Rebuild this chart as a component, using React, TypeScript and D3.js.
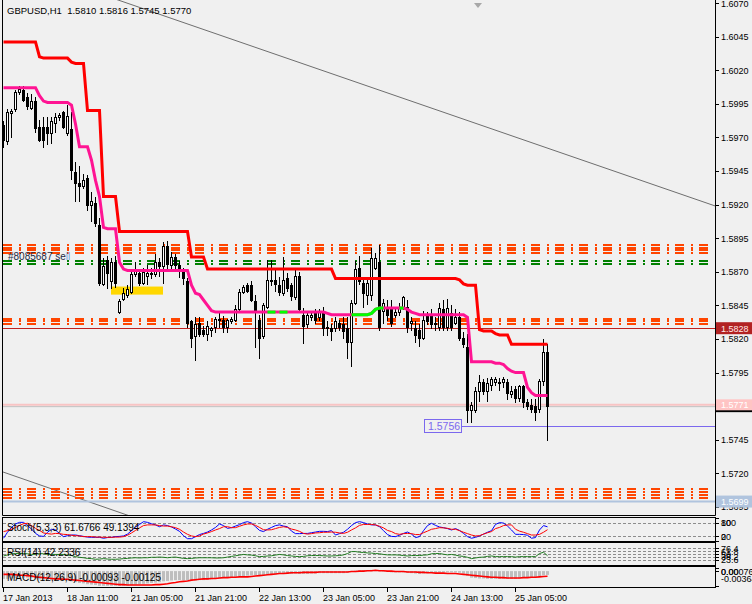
import * as d3 from "d3";

// H1 candles, [open, high, low, close]
const ohlc: [number, number, number, number][] = [
  [1.5979, 1.5982, 1.5963, 1.5968], [1.5967, 1.5991, 1.5965, 1.5989], [1.5988, 1.5991, 1.597, 1.599], [1.5991, 1.6005, 1.599, 1.6004], [1.6004, 1.6008, 1.6002, 1.6006],
  [1.6005, 1.6008, 1.5997, 1.5998], [1.6, 1.6003, 1.5991, 1.5993], [1.5992, 1.6002, 1.5991, 1.5997], [1.5997, 1.6, 1.5974, 1.5977], [1.5978, 1.5983, 1.5967, 1.5968],
  [1.5978, 1.5985, 1.5963, 1.5968], [1.5978, 1.5985, 1.5965, 1.5973], [1.5973, 1.5985, 1.5966, 1.5982], [1.5981, 1.5988, 1.5974, 1.5985], [1.5985, 1.5988, 1.5983, 1.5987],
  [1.5989, 1.599, 1.5977, 1.5978], [1.5973, 1.5994, 1.5972, 1.5986], [1.5976, 1.5989, 1.5939, 1.5946], [1.5944, 1.5952, 1.5923, 1.5936], [1.5936, 1.5949, 1.5923, 1.5934],
  [1.5934, 1.5943, 1.5932, 1.5938], [1.594, 1.5942, 1.5916, 1.592], [1.592, 1.5929, 1.5908, 1.5923], [1.5921, 1.5926, 1.5904, 1.5906], [1.5905, 1.591, 1.586, 1.5862],
  [1.5861, 1.588, 1.586, 1.5874], [1.5879, 1.5882, 1.5858, 1.5869], [1.5863, 1.588, 1.5858, 1.5877], [1.5877, 1.5882, 1.5859, 1.5862], [1.584, 1.585, 1.5839, 1.5848],
  [1.585, 1.5858, 1.5849, 1.5854], [1.5853, 1.586, 1.5851, 1.5857], [1.5855, 1.587, 1.5854, 1.5868], [1.5868, 1.5877, 1.5867, 1.5871], [1.5869, 1.5871, 1.586, 1.5862],
  [1.5862, 1.5873, 1.5861, 1.587], [1.5867, 1.5875, 1.5861, 1.5869], [1.5869, 1.5873, 1.5865, 1.5868], [1.5868, 1.5883, 1.5867, 1.5877], [1.5877, 1.588, 1.5867, 1.5874],
  [1.5874, 1.5892, 1.5862, 1.5889], [1.5889, 1.5893, 1.5873, 1.5876], [1.5875, 1.5885, 1.5872, 1.5881], [1.5881, 1.5883, 1.5872, 1.5875], [1.5875, 1.5878, 1.5866, 1.5871],
  [1.5872, 1.5873, 1.5861, 1.5865], [1.5863, 1.5865, 1.5829, 1.5832], [1.5833, 1.5834, 1.5814, 1.5821], [1.5822, 1.5836, 1.5804, 1.5831], [1.5832, 1.5836, 1.5822, 1.5824],
  [1.5827, 1.583, 1.5822, 1.5824], [1.5824, 1.5833, 1.5819, 1.583], [1.5827, 1.5829, 1.5822, 1.5828], [1.5829, 1.5836, 1.5825, 1.5835], [1.5834, 1.5839, 1.5829, 1.5835],
  [1.5834, 1.5837, 1.5825, 1.5829], [1.5829, 1.5835, 1.5825, 1.5834], [1.5833, 1.5836, 1.5832, 1.5835], [1.5834, 1.5845, 1.5833, 1.5842], [1.5842, 1.5857, 1.584, 1.5855],
  [1.5855, 1.586, 1.5854, 1.5859], [1.586, 1.5862, 1.5855, 1.5856], [1.586, 1.5863, 1.5848, 1.5849], [1.5848, 1.5853, 1.5814, 1.5841], [1.5834, 1.5838, 1.5806, 1.5821],
  [1.5822, 1.5847, 1.5821, 1.5845], [1.5844, 1.5879, 1.5843, 1.5864], [1.5864, 1.5879, 1.586, 1.5863], [1.5864, 1.5871, 1.5856, 1.5861], [1.586, 1.5866, 1.5853, 1.5855],
  [1.5854, 1.5881, 1.5853, 1.5864], [1.5865, 1.5869, 1.5856, 1.5858], [1.586, 1.5862, 1.5849, 1.5852], [1.5851, 1.5871, 1.585, 1.5867], [1.5867, 1.587, 1.584, 1.5842],
  [1.5838, 1.5843, 1.5817, 1.583], [1.5831, 1.584, 1.5829, 1.5838], [1.5836, 1.584, 1.5834, 1.5838], [1.584, 1.5842, 1.5832, 1.5834], [1.5836, 1.5842, 1.5834, 1.584],
  [1.5839, 1.5844, 1.5823, 1.5828], [1.5829, 1.5833, 1.5823, 1.5828], [1.5828, 1.5831, 1.5819, 1.5826], [1.5828, 1.5836, 1.5826, 1.5833], [1.5832, 1.5834, 1.5827, 1.5829],
  [1.5831, 1.5836, 1.5821, 1.5826], [1.5828, 1.5836, 1.5806, 1.5818], [1.5818, 1.5849, 1.58, 1.5847], [1.5847, 1.5878, 1.5846, 1.5872], [1.5873, 1.5882, 1.5861, 1.5863],
  [1.5862, 1.5865, 1.5844, 1.5854], [1.5853, 1.5865, 1.5846, 1.5862], [1.5853, 1.5888, 1.5849, 1.588], [1.5873, 1.5884, 1.5872, 1.588], [1.5877, 1.589, 1.5827, 1.5829],
  [1.5841, 1.585, 1.5832, 1.5847], [1.5844, 1.5849, 1.5834, 1.5838], [1.5842, 1.5849, 1.583, 1.5832], [1.5838, 1.5844, 1.5836, 1.584], [1.584, 1.5847, 1.5838, 1.5843],
  [1.5844, 1.5852, 1.5842, 1.5851], [1.5844, 1.5849, 1.5825, 1.5829], [1.5832, 1.5836, 1.5827, 1.5833], [1.5828, 1.5833, 1.5818, 1.5823], [1.5827, 1.5831, 1.5815, 1.5821],
  [1.5821, 1.5841, 1.582, 1.5834], [1.5838, 1.584, 1.5831, 1.5833], [1.5837, 1.5842, 1.5828, 1.5831], [1.5831, 1.5836, 1.5827, 1.5832], [1.5829, 1.5847, 1.5827, 1.5843],
  [1.5842, 1.5849, 1.5827, 1.5829], [1.5829, 1.585, 1.5827, 1.5843], [1.5839, 1.5845, 1.5827, 1.5829], [1.5832, 1.5842, 1.5831, 1.5836], [1.5836, 1.584, 1.5819, 1.5821],
  [1.5821, 1.5825, 1.5814, 1.5816], [1.5814, 1.5824, 1.5758, 1.5767], [1.5767, 1.5773, 1.5758, 1.5771], [1.5767, 1.5784, 1.5766, 1.5781], [1.5781, 1.5793, 1.5774, 1.5788],
  [1.5788, 1.579, 1.5779, 1.5781], [1.5781, 1.5791, 1.5774, 1.5787], [1.5786, 1.5792, 1.5782, 1.579], [1.5788, 1.5792, 1.5786, 1.579], [1.5788, 1.5791, 1.5782, 1.5787],
  [1.5788, 1.5792, 1.5784, 1.579], [1.5788, 1.579, 1.5775, 1.578], [1.5779, 1.5785, 1.5777, 1.5781], [1.5783, 1.5785, 1.5773, 1.5776], [1.5776, 1.5786, 1.5774, 1.5785],
  [1.5785, 1.5786, 1.5769, 1.5773], [1.5773, 1.5775, 1.5768, 1.577], [1.5771, 1.5775, 1.5766, 1.5768], [1.577, 1.5775, 1.576, 1.5766], [1.5768, 1.579, 1.5766, 1.5789],
  [1.5789, 1.582, 1.5786, 1.581], [1.581, 1.5816, 1.5745, 1.577],
];

// red step indicator
const stopLevels = [
  1.6041, 1.6041, 1.6041, 1.6041, 1.6041, 1.6041, 1.6041, 1.6041, 1.6041, 1.603,
  1.6029, 1.6029, 1.6029, 1.6029, 1.6029, 1.6029, 1.6029, 1.6026, 1.6025, 1.6025,
  1.6025, 1.599, 1.599, 1.599, 1.599, 1.5926, 1.5926, 1.5926, 1.5926, 1.59,
  1.59, 1.59, 1.59, 1.59, 1.59, 1.59, 1.59, 1.59, 1.59, 1.59,
  1.59, 1.59, 1.59, 1.59, 1.59, 1.59, 1.59, 1.5881, 1.5881, 1.5881,
  1.5881, 1.5872, 1.5872, 1.5872, 1.5872, 1.5872, 1.5872, 1.5872, 1.5872, 1.5872,
  1.5872, 1.5872, 1.5872, 1.5872, 1.5872, 1.5872, 1.5872, 1.5872, 1.5872, 1.5872,
  1.5872, 1.5872, 1.5872, 1.5872, 1.5872, 1.5872, 1.5872, 1.5872, 1.5872, 1.5872,
  1.5872, 1.5872, 1.5872, 1.5865, 1.5865, 1.5865, 1.5865, 1.5865, 1.5865, 1.5865,
  1.5865, 1.5865, 1.5865, 1.5865, 1.5865, 1.5865, 1.5865, 1.5865, 1.5865, 1.5865,
  1.5865, 1.5865, 1.5865, 1.5865, 1.5865, 1.5865, 1.5865, 1.5865, 1.5865, 1.5865,
  1.5865, 1.5865, 1.5865, 1.5865, 1.5864, 1.5861, 1.586, 1.586, 1.586, 1.5827,
  1.5826, 1.5826, 1.5826, 1.5824, 1.5823, 1.5823, 1.5823, 1.5816, 1.5816, 1.5816,
  1.5816, 1.5816, 1.5816, 1.5816, 1.5816, 1.5816, 1.5816,
];

// pink trailing line
const trailLevels = [
  1.6007, 1.6007, 1.6007, 1.6007, 1.6007, 1.6007, 1.6007, 1.6007, 1.6007, 1.6001,
  1.5997, 1.5996, 1.5996, 1.5996, 1.5996, 1.5996, 1.5996, 1.5994, 1.598, 1.5963,
  1.5963, 1.5963, 1.5953, 1.5938, 1.5926, 1.5903, 1.5902, 1.5902, 1.5902, 1.5877,
  1.5872, 1.5871, 1.5871, 1.5871, 1.5871, 1.5871, 1.5871, 1.5871, 1.5871, 1.5871,
  1.5871, 1.5871, 1.5871, 1.5871, 1.5871, 1.5871, 1.5871, 1.586, 1.5854, 1.5853,
  1.5849, 1.5845, 1.5841, 1.584, 1.584, 1.584, 1.584, 1.584, 1.584, 1.584,
  1.584, 1.584, 1.584, 1.584, 1.584, 1.584, 1.584, 1.584, 1.584, 1.584,
  1.584, 1.584, 1.584, 1.584, 1.584, 1.584, 1.584, 1.584, 1.584, 1.584,
  1.584, 1.5839, 1.5838, 1.5838, 1.5838, 1.5838, 1.5838, 1.5838, 1.5838, 1.5838,
  1.5838, 1.5838, 1.5839, 1.5842, 1.5843, 1.5843, 1.5843, 1.5843, 1.5843, 1.5843,
  1.5843, 1.5842, 1.584, 1.5839, 1.5838, 1.5838, 1.5838, 1.5838, 1.5838, 1.5838,
  1.5838, 1.5838, 1.5838, 1.5838, 1.5838, 1.5838, 1.5836, 1.5803, 1.5803, 1.5803,
  1.5803, 1.5803, 1.5803, 1.5802, 1.5802, 1.5801, 1.5798, 1.5796, 1.5795, 1.5795,
  1.5795, 1.5784, 1.578, 1.5778, 1.5778, 1.5778, 1.5778,
];
// bar ranges where the trailing line turns lime
const limeRanges: [number, number][] = [[66, 68], [69, 71], [87, 95], [99, 100]];

const stochMain = [
  12, 38, 59, 74, 81, 81, 67, 52, 33, 22, 20, 38, 51, 48, 32, 19, 23, 26, 26, 23,
  20, 17, 16, 16, 16, 12, 15, 16, 19, 20, 22, 30, 45, 61, 72, 84, 81, 75, 70, 62,
  70, 67, 61, 52, 42, 23, 10, 10, 19, 28, 33, 39, 48, 59, 74, 67, 55, 58, 65, 71,
  80, 84, 78, 62, 46, 41, 51, 59, 67, 70, 65, 62, 43, 32, 32, 33, 33, 36, 39, 42,
  42, 41, 45, 26, 32, 38, 51, 67, 80, 84, 80, 74, 70, 70, 62, 45, 28, 20, 19, 25,
  33, 39, 30, 15, 19, 45, 67, 77, 68, 61, 58, 54, 48, 54, 46, 33, 19, 12, 16, 22,
  30, 38, 45, 72, 80, 78, 65, 48, 29, 29, 28, 25, 12, 15, 48, 67, 61.6766,
];
const stochSignal = [
  41, 45, 51, 59, 68, 75, 77, 67, 55, 46, 35, 32, 30, 33, 32, 29, 28, 25, 23, 22,
  19, 19, 19, 17, 17, 16, 16, 16, 17, 17, 19, 25, 35, 46, 57, 67, 70, 70, 70, 67,
  65, 65, 62, 58, 51, 39, 29, 22, 19, 22, 30, 35, 41, 48, 54, 62, 62, 58, 58, 64,
  70, 74, 74, 68, 59, 49, 48, 49, 54, 59, 62, 59, 52, 48, 42, 33, 30, 32, 35, 36,
  38, 38, 39, 38, 35, 33, 38, 48, 57, 68, 72, 72, 72, 70, 64, 57, 46, 41, 32, 29,
  32, 33, 32, 28, 28, 36, 43, 51, 54, 58, 57, 55, 51, 51, 45, 38, 32, 26, 22, 23,
  30, 36, 41, 54, 59, 67, 70, 70, 51, 43, 38, 32, 26, 26, 29, 38, 49.1394,
];
const stochLevels = [80, 20];
const stochAxis = [100, 80, 20, 0];

const rsiValues = [
  41, 46, 51, 52, 52, 52, 51, 48, 49, 52, 51, 48, 48, 48, 48, 48, 45, 43, 38, 35,
  33, 30, 29, 26, 27, 29, 27, 26, 26, 27, 29, 30, 32, 33, 32, 33, 33, 35, 35, 36,
  35, 33, 35, 36, 33, 30, 29, 30, 32, 33, 33, 33, 33, 32, 32, 33, 36, 39, 42, 45,
  48, 46, 45, 42, 38, 39, 41, 42, 45, 48, 46, 43, 41, 39, 38, 39, 42, 43, 43, 43,
  42, 41, 41, 42, 43, 46, 52, 61, 61, 58, 57, 55, 54, 52, 51, 48, 46, 46, 46, 45,
  43, 41, 43, 43, 43, 45, 46, 51, 52, 52, 49, 46, 48, 45, 41, 39, 35, 29, 32, 35,
  36, 39, 41, 38, 38, 38, 38, 38, 36, 38, 38, 38, 38, 38, 52, 58, 42.2336,
];
const rsiLevels = [76.4, 61.8, 50, 38.2, 23.6];

const macdMain = [
  -0.0019, -0.0019, -0.0018, -0.0017, -0.0016, -0.0016, -0.0016, -0.0016, -0.0018, -0.002,
  -0.0021, -0.0022, -0.0022, -0.0022, -0.0022, -0.0023, -0.0023, -0.0025, -0.0027, -0.0029,
  -0.003, -0.0032, -0.0033, -0.0034, -0.0036, -0.0036, -0.0036, -0.0036, -0.0036, -0.0036,
  -0.0036, -0.0035, -0.0034, -0.0033, -0.0032, -0.0031, -0.003, -0.0029, -0.0028, -0.0027,
  -0.0025, -0.0024, -0.0023, -0.0022, -0.0022, -0.0022, -0.0023, -0.0023, -0.0023, -0.0022,
  -0.0022, -0.0021, -0.002, -0.0019, -0.0018, -0.0017, -0.0016, -0.0015, -0.0014, -0.0013,
  -0.0012, -0.0011, -0.001, -0.001, -0.0011, -0.001, -0.0009, -0.0008, -0.0008, -0.0007,
  -0.0007, -0.0007, -0.0007, -0.0006, -0.0007, -0.0007, -0.0007, -0.0006, -0.0006, -0.0005,
  -0.0005, -0.0005, -0.0005, -0.0005, -0.0005, -0.0005, -0.0004, -0.0002, 0.0001, 0.0002,
  0.0002, 0.0002, 0.0003, 0.0002, 0.0001, -0.0001, -0.0002, -0.0003, -0.0003, -0.0003,
  -0.0003, -0.0004, -0.0005, -0.0006, -0.0007, -0.0006, -0.0005, -0.0004, -0.0004, -0.0003,
  -0.0003, -0.0003, -0.0003, -0.0003, -0.0004, -0.0006, -0.0012, -0.0016, -0.0017, -0.0018,
  -0.0018, -0.0019, -0.0019, -0.0019, -0.0019, -0.0019, -0.0019, -0.0019, -0.0019, -0.0018,
  -0.0017, -0.0016, -0.0016, -0.0015, -0.0013, -0.001, -0.00093,
];
const macdSignal = [
  -0.0008, -0.0008, -0.0008, -0.0009, -0.001, -0.001, -0.0011, -0.0012, -0.0014, -0.0015,
  -0.0016, -0.0017, -0.0018, -0.0019, -0.0019, -0.002, -0.002, -0.0021, -0.0022, -0.0023,
  -0.0024, -0.0025, -0.0026, -0.0027, -0.0028, -0.0029, -0.003, -0.0031, -0.0032, -0.0033,
  -0.0033, -0.0034, -0.0034, -0.0034, -0.0034, -0.0034, -0.0034, -0.0034, -0.0033, -0.0033,
  -0.0032, -0.0031, -0.0029, -0.0028, -0.0026, -0.0025, -0.0024, -0.0022, -0.0021, -0.002,
  -0.0019, -0.0019, -0.0018, -0.0018, -0.0017, -0.0016, -0.0016, -0.0015, -0.0015, -0.0014,
  -0.0014, -0.0014, -0.0013, -0.0012, -0.0011, -0.001, -0.0009, -0.0008, -0.0007, -0.0006,
  -0.0006, -0.0005, -0.0004, -0.0004, -0.0004, -0.0003, -0.0003, -0.0003, -0.0003, -0.0002,
  -0.0002, -0.0002, -0.0002, -0.0002, -0.0002, -0.0002, -0.0002, -0.0001, -0.0001, 0,
  0, 0.0001, 0.0001, 0.0002, 0.0001, 0.0001, 0, 0, -0.0001, -0.0001,
  -0.0001, -0.0002, -0.0002, -0.0002, -0.0003, -0.0003, -0.0004, -0.0004, -0.0005, -0.0005,
  -0.0005, -0.0006, -0.0006, -0.0006, -0.0007, -0.0008, -0.0009, -0.001, -0.0011, -0.0012,
  -0.0013, -0.0014, -0.0015, -0.0015, -0.0016, -0.0016, -0.0017, -0.0017, -0.0017, -0.0017,
  -0.0016, -0.0016, -0.0015, -0.0015, -0.0014, -0.0013, -0.00125,
];
const macdAxis = [0.00076, 0, -0.00364];

const timeTickBars = [0, 16, 32, 48, 64, 80, 96, 112, 128];
const timeTickLabels = [
  "17 Jan 2013", "18 Jan 11:00", "21 Jan 05:00", "21 Jan 21:00", "22 Jan 13:00",
  "23 Jan 05:00", "23 Jan 21:00", "24 Jan 13:00", "25 Jan 05:00",
];
const priceTicks = [
  1.607, 1.6045, 1.602, 1.5995, 1.597, 1.5945, 1.592, 1.5895, 1.587, 1.5845,
  1.582, 1.5795, 1.577, 1.5745, 1.572, 1.5695,
];

// dash-dot order level bands
const upperBand = [1.589, 1.5888, 1.5886, 1.5884];
const middleBand = [1.5835, 1.5833, 1.5831];
const lowerBand = [1.5708, 1.5706, 1.5704, 1.5702];
const orderLevels = [1.5878, 1.5876];
const orderLabel = "#8085687 sell";

// trend channel (bar, price) anchors
const channelTop: [number, number][] = [[29, 1.6072], [178, 1.5919]];
const channelBottom: [number, number][] = [[0, 1.5721], [31, 1.5689]];

const zoneBars = [27, 40];
const zonePrices = [1.5853, 1.5859];

const redLevel = 1.5828;
const askLevel = 1.5771;
const bidLevel = 1.577;
const blueLevel = 1.5756;
const blueFromBar = 114.75;
const steelLevel = 1.5699;
const shiftBar = 118.75;

const header = "GBPUSD,H1  1.5810 1.5816 1.5745 1.5770";

const W = 752;
const H = 604;
const FONT = "'Liberation Sans', Arial, sans-serif";
const BG = "#f0f0f0";

export default function App() {
  const x = d3.scaleLinear().domain([0, 178]).range([3, 715]);
  const y = d3.scaleLinear().domain([1.5689, 1.607]).range([515, 3]);
  const yStoch = d3.scaleLinear().domain([0, 100]).range([541, 518]);
  const yRsi = d3.scaleLinear().domain([0, 100]).range([565, 543]);
  const yMacd = d3.scaleLinear().domain([-0.00364, 0.00076]).range([586, 568]);

  const [left, right] = x.range();
  const cx = (i: number) => Math.round(x(i)) + 0.5;
  const ry = (v: number) => Math.round(y(v)) + 0.5;

  const priceLine = d3
    .line<number>()
    .x((_, i) => x(i) + 0.5)
    .y((d) => y(d));
  const stochLine = (vals: number[]) =>
    d3.line<number>().x((_, i) => x(i) + 0.5).y((d) => yStoch(d))(vals) || "";
  const rsiLine = d3.line<number>().x((_, i) => x(i) + 0.5).y((d) => yRsi(d));
  const macdLine = d3.line<number>().x((_, i) => x(i) + 0.5).y((d) => yMacd(d));

  const limeSegments = limeRanges.map(([a, b]) =>
    d3
      .line<number>()
      .x((_, k) => x(a + k) + 0.5)
      .y((d) => y(d))(trailLevels.slice(a, b + 1)) || ""
  );

  const extend = (pts: [number, number][]) => {
    const [[b0, p0], [b1, p1]] = pts;
    const slope = (p1 - p0) / (b1 - b0);
    const bA = -10;
    const bB = 200;
    return { x1: x(bA), y1: y(p0 + slope * (bA - b0)), x2: x(bB), y2: y(p0 + slope * (bB - b0)) };
  };
  const ch1 = extend(channelTop);
  const ch2 = extend(channelBottom);

  const dash = "9,7,2,6";
  const band = (levels: number[], color: string, key: string) =>
    levels.map((lv, k) => (
      <line
        key={key + k}
        x1={left}
        x2={right}
        y1={Math.round(y(lv))}
        y2={Math.round(y(lv))}
        stroke={color}
        strokeWidth={2}
        strokeDasharray={dash}
      />
    ));

  const clampLabel = (v: number, top: number, bottom: number) =>
    Math.max(top + 4, Math.min(bottom - 5, v));

  const axisBox = (level: number, fill: string, color: string, label: string, h = 12) => (
    <g>
      <rect x={716} y={y(level) - h / 2} width={36} height={h} fill={fill} />
      <text x={721} y={y(level) + 3.5} fontSize={9} fill={color} fontFamily={FONT}>
        {label}
      </text>
    </g>
  );

  return (
    <svg
      width={W}
      height={H}
      style={{ position: "absolute", left: 0, top: 0, display: "block" }}
    >
      <defs>
        <clipPath id="mainClip">
          <rect x={3} y={0} width={712} height={515} />
        </clipPath>
        <clipPath id="macdClip">
          <rect x={3} y={568} width={712} height={19} />
        </clipPath>
      </defs>
      <rect x={0} y={0} width={W} height={H} fill={BG} />

      {/* main chart */}
      <g clipPath="url(#mainClip)">
        <line {...ch1} stroke="#6e6e6e" strokeWidth={1} />
        <line {...ch2} stroke="#6e6e6e" strokeWidth={1} />
        {band(upperBand, "#ff4500", "ub")}
        {band(middleBand, "#ff4500", "mb")}
        {band(lowerBand, "#ff4500", "lb")}
        {band(orderLevels, "#008000", "ol")}
        <line x1={left} x2={right} y1={ry(redLevel)} y2={ry(redLevel)} stroke="#c0201e" />
        <line x1={left} x2={right} y1={y(bidLevel) + 0.5} y2={y(bidLevel) + 0.5} stroke="#c0c0c0" />
        <line x1={left} x2={right} y1={y(askLevel)} y2={y(askLevel)} stroke="#f8c4c4" strokeWidth={2} />
        <line x1={x(blueFromBar)} x2={right} y1={ry(blueLevel) + 1} y2={ry(blueLevel) + 1} stroke="#7b68ee" />
        <line x1={left} x2={right} y1={y(steelLevel)} y2={y(steelLevel)} stroke="#b0c4de" strokeWidth={2} />
        <rect
          x={x(zoneBars[0])}
          y={y(zonePrices[1])}
          width={x(zoneBars[1]) - x(zoneBars[0])}
          height={y(zonePrices[0]) - y(zonePrices[1])}
          fill="#ffd700"
        />

        {ohlc.map(([o, h, l, c], i) => {
          const px = cx(i);
          const top = Math.round(Math.min(y(o), y(c)));
          const bot = Math.round(Math.max(y(o), y(c)));
          return (
            <g key={i}>
              <line x1={px} x2={px} y1={Math.round(y(h))} y2={Math.round(y(l)) + 1} stroke="#000" />
              {bot - top < 1 ? (
                <line x1={px - 1.5} x2={px + 1.5} y1={top + 0.5} y2={top + 0.5} stroke="#000" />
              ) : c > o ? (
                <rect x={px - 1} y={top + 0.5} width={2} height={bot - top} fill="#fff" stroke="#000" />
              ) : (
                <rect x={px - 1.5} y={top} width={3} height={bot - top + 1} fill="#000" />
              )}
            </g>
          );
        })}

        <path d={priceLine(stopLevels) || ""} fill="none" stroke="#ff0000" strokeWidth={3} />
        <path d={priceLine(trailLevels) || ""} fill="none" stroke="#ff1493" strokeWidth={3} />
        {limeSegments.map((d, k) => (
          <path key={k} d={d} fill="none" stroke="#00ff00" strokeWidth={3} />
        ))}

        <g>
          <rect
            x={Math.round(x(blueFromBar)) - 37.5}
            y={ry(blueLevel) - 6}
            width={37}
            height={13}
            fill={BG}
            stroke="#7b68ee"
          />
          <text x={Math.round(x(blueFromBar)) - 34} y={ry(blueLevel) + 4.5} fontSize={10.5} fill="#7b68ee" fontFamily={FONT}>
            {blueLevel.toFixed(4)}
          </text>
        </g>
        <text x={8} y={y(orderLevels[0]) - 1} fontSize={10} fill="#1c2b45" fontFamily={FONT}>
          {orderLabel.slice(0, -2)}
          <tspan fill="#6fa4dc">{orderLabel.slice(-2)}</tspan>
        </text>
      </g>

      <text x={7} y={14} fontSize={9.5} fill="#000" fontFamily={FONT} style={{ whiteSpace: "pre" }}>
        {header}
      </text>
      <path
        d={`M${x(shiftBar) - 4},3 L${x(shiftBar) + 4},3 L${x(shiftBar)},8 Z`}
        fill="#a8a8a8"
      />

      {/* frames */}
      <path d="M2.5,0 V515.5 H715.5 V0" fill="none" stroke="#000" />
      <rect x={2.5} y={517.5} width={713} height={24} fill="none" stroke="#000" />
      <rect x={2.5} y={542.5} width={713} height={23} fill="none" stroke="#000" />
      <rect x={2.5} y={566.5} width={713} height={21} fill="none" stroke="#000" />

      {/* price axis */}
      {priceTicks.map((p) => (
        <g key={p}>
          <line x1={716} x2={719} y1={ry(p)} y2={ry(p)} stroke="#000" />
          <text x={721} y={y(p) + 3.5} fontSize={9} fill="#000" fontFamily={FONT}>
            {p.toFixed(4)}
          </text>
        </g>
      ))}
      {axisBox(redLevel, "#b22222", "#ffe8e8", redLevel.toFixed(4))}
      {axisBox(bidLevel, "#000", "#fff", bidLevel.toFixed(4))}
      {axisBox(askLevel, "#ffc4c4", "#fff", askLevel.toFixed(4), 11)}
      {axisBox(steelLevel, "#b0c4de", "#fff", steelLevel.toFixed(4))}

      {/* stochastic */}
      {stochLevels.map((lv) => (
        <line
          key={lv}
          x1={left}
          x2={right}
          y1={Math.round(yStoch(lv)) + 0.5}
          y2={Math.round(yStoch(lv)) + 0.5}
          stroke="#8c8c8c"
          strokeDasharray="3,2"
        />
      ))}
      <path d={stochLine(stochMain)} fill="none" stroke="#0000ff" strokeWidth={1} />
      <path d={stochLine(stochSignal)} fill="none" stroke="#ff0000" strokeWidth={1} />
      <text x={7} y={531} fontSize={10} fill="#000" fontFamily={FONT}>
        Stoch(5,3,3) {stochMain[stochMain.length - 1].toFixed(4)} {stochSignal[stochSignal.length - 1].toFixed(4)}
      </text>
      {stochAxis.map((v) => (
        <g key={v}>
          <line x1={716} x2={719} y1={Math.round(yStoch(v)) + 0.5} y2={Math.round(yStoch(v)) + 0.5} stroke="#000" />
          <text x={721} y={clampLabel(yStoch(v), 518, 541) + 3.5} fontSize={9} fill="#000" fontFamily={FONT}>
            {v}
          </text>
        </g>
      ))}

      {/* RSI */}
      {rsiLevels.map((lv) => (
        <line
          key={lv}
          x1={left}
          x2={right}
          y1={Math.round(yRsi(lv)) + 0.5}
          y2={Math.round(yRsi(lv)) + 0.5}
          stroke="#8c8c8c"
          strokeDasharray="3,2"
        />
      ))}
      <path d={rsiLine(rsiValues) || ""} fill="none" stroke="#1f7a1f" strokeWidth={1} />
      <text x={7} y={556} fontSize={10} fill="#000" fontFamily={FONT}>
        RSI(14) {rsiValues[rsiValues.length - 1].toFixed(4)}
      </text>
      {rsiLevels.map((v) => (
        <g key={v}>
          <line x1={716} x2={719} y1={Math.round(yRsi(v)) + 0.5} y2={Math.round(yRsi(v)) + 0.5} stroke="#000" />
          <text x={721} y={yRsi(v) + 3.5} fontSize={9} fill="#000" fontFamily={FONT}>
            {v}
          </text>
        </g>
      ))}

      {/* MACD */}
      <g clipPath="url(#macdClip)">
        {macdMain.map((v, i) => (
          <rect
            key={i}
            x={cx(i) - 1.5}
            y={Math.min(yMacd(v), yMacd(0))}
            width={3}
            height={Math.max(Math.abs(yMacd(v) - yMacd(0)), 0.5)}
            fill="#bebebe"
          />
        ))}
        <path d={macdLine(macdSignal) || ""} fill="none" stroke="#ff0000" strokeWidth={1.6} />
      </g>
      <text x={7} y={581} fontSize={10} fill="#000" fontFamily={FONT}>
        MACD(12,26,9) {macdMain[macdMain.length - 1].toFixed(5)} {macdSignal[macdSignal.length - 1].toFixed(5)}
      </text>
      {macdAxis.map((v) => (
        <g key={v}>
          <line x1={716} x2={719} y1={Math.round(yMacd(v)) + 0.5} y2={Math.round(yMacd(v)) + 0.5} stroke="#000" />
          <text
            x={721}
            y={Math.max(571, Math.min(578, yMacd(v))) + 3.5}
            fontSize={9}
            fill="#000"
            fontFamily={FONT}
          >
            {v === 0 ? "0.00" : v.toFixed(5)}
          </text>
        </g>
      ))}

      {/* time axis */}
      {timeTickBars.map((b, k) => (
        <g key={b}>
          <line x1={cx(b)} x2={cx(b)} y1={588} y2={592} stroke="#000" />
          <text x={cx(b) - 0.5} y={601} fontSize={9} fill="#000" fontFamily={FONT}>
            {timeTickLabels[k]}
          </text>
        </g>
      ))}
    </svg>
  );
}
